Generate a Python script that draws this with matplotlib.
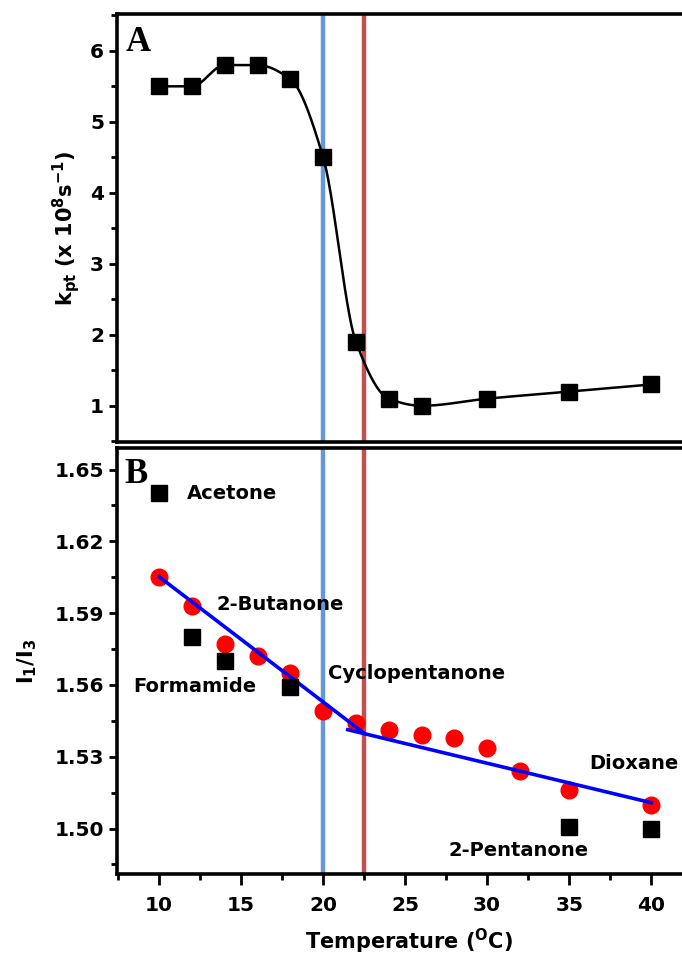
import numpy as np
import matplotlib
matplotlib.use('Agg')
import matplotlib.pyplot as plt
from matplotlib.ticker import MultipleLocator

# panel A: k_pt vs temperature
temp_a = [10, 12, 14, 16, 18, 20, 22, 24, 26, 30, 35, 40]
kpt = [5.5, 5.5, 5.8, 5.8, 5.6, 4.5, 1.9, 1.1, 1.0, 1.1, 1.2, 1.3]

# panel B: I1/I3 of pyrene vs temperature
temp_b = [10, 12, 14, 16, 18, 20, 22, 24, 26, 28, 30, 32, 35, 40]
ratio_b = [1.605, 1.593, 1.577, 1.572, 1.565, 1.549, 1.544, 1.541, 1.539, 1.538,
           1.5335, 1.524, 1.516, 1.510]

# reference solvents
solv_x = [10, 12, 14, 18, 35, 40]
solv_y = [1.640, 1.580, 1.570, 1.559, 1.5005, 1.4998]
solv_names = ['Acetone', '2-Butanone', 'Formamide', 'Cyclopentanone', '2-Pentanone', 'Dioxane']
label_x = [11.7, 13.5, 8.45, 20.3, 27.66, 36.2]
label_y = [1.640, 1.5937, 1.5594, 1.5647, 1.491, 1.527]

# two linear fits
fit1_x = [10, 22.5]
fit1_y = [1.6052, 1.5398]
fit2_x = [21.5, 40]
fit2_y = [1.5413, 1.5108]

t_low, t_high = 20, 22.5


def pchip(x, y, xs):
    # monotone cubic used only to draw the smooth guide line
    x = np.asarray(x, float)
    y = np.asarray(y, float)
    h = np.diff(x)
    d = np.diff(y) / h
    m = np.zeros_like(y)
    for i in range(1, len(x) - 1):
        if d[i - 1] * d[i] > 0:
            w1 = 2 * h[i] + h[i - 1]
            w2 = h[i] + 2 * h[i - 1]
            m[i] = (w1 + w2) / (w1 / d[i - 1] + w2 / d[i])
    m[0] = d[0]
    m[-1] = d[-1]
    idx = np.clip(np.searchsorted(x, xs) - 1, 0, len(x) - 2)
    t = (xs - x[idx]) / h[idx]
    h00 = 2 * t**3 - 3 * t**2 + 1
    h10 = t**3 - 2 * t**2 + t
    h01 = -2 * t**3 + 3 * t**2
    h11 = t**3 - t**2
    return h00 * y[idx] + h10 * h[idx] * m[idx] + h01 * y[idx + 1] + h11 * h[idx] * m[idx + 1]


plt.rcParams['font.family'] = ['DejaVu Sans']
plt.rcParams['font.weight'] = 'bold'
plt.rcParams['mathtext.fontset'] = 'custom'
plt.rcParams['mathtext.rm'] = 'DejaVu Sans:bold'
plt.rcParams['mathtext.bf'] = 'DejaVu Sans:bold'
plt.rcParams['mathtext.it'] = 'DejaVu Sans:bold'

fig = plt.figure(figsize=(6.82, 9.55), dpi=100)
left, width = 0.172, 0.855
ax1 = fig.add_axes([left, 0.5372, width, 0.4482])
ax2 = fig.add_axes([left, 0.0848, width, 0.4461])

blue_v = '#6496d8'
red_v = '#c0504d'
tick_fs = 14.5

for ax in (ax1, ax2):
    ax.set_xlim(7.45, 43)
    for s in ax.spines.values():
        s.set_linewidth(2.6)
    ax.axvline(t_low, color=blue_v, lw=3.2, zorder=1)
    ax.axvline(t_high, color=red_v, lw=3.2, zorder=1)
    ax.tick_params(which='major', direction='out', length=6, width=2, labelsize=tick_fs)
    ax.tick_params(which='minor', direction='out', length=4, width=2)
    ax.xaxis.set_major_locator(MultipleLocator(5))
    ax.xaxis.set_minor_locator(MultipleLocator(2.5))

# panel A
xs = np.linspace(10, 40, 600)
ax1.plot(xs, pchip(temp_a, kpt, xs), color='black', lw=1.8, zorder=2)
ax1.plot(temp_a, kpt, 's', color='black', ms=11, zorder=3)
ax1.set_ylim(0.49, 6.52)
ax1.yaxis.set_major_locator(MultipleLocator(1))
ax1.yaxis.set_minor_locator(MultipleLocator(0.5))
ax1.tick_params(axis='x', which='both', bottom=False, labelbottom=False)
ax1.set_ylabel(r'k$_{\mathbf{pt}}$ (x 10$^{\mathbf{8}}$s$^{\mathbf{-1}}$)', fontsize=15,
               fontweight='bold', labelpad=6)
ax1.text(0.015, 0.972, 'A', transform=ax1.transAxes, fontsize=25, fontweight='bold',
         family='Liberation Serif', va='top', ha='left')

# panel B
ax2.plot(temp_b, ratio_b, 'o', color='red', ms=12, zorder=2)
ax2.plot(fit1_x, fit1_y, color='blue', lw=2.6, zorder=3)
ax2.plot(fit2_x, fit2_y, color='blue', lw=2.6, zorder=3)
ax2.plot(solv_x, solv_y, 's', color='black', ms=11, zorder=4)
for name, lx, ly in zip(solv_names, label_x, label_y):
    ax2.text(lx, ly, name, fontsize=14, fontweight='bold', va='center', ha='left', zorder=5)
ax2.set_ylim(1.481, 1.659)
ax2.yaxis.set_major_locator(MultipleLocator(0.03))
ax2.yaxis.set_minor_locator(MultipleLocator(0.015))
ax2.yaxis.set_major_formatter(matplotlib.ticker.FormatStrFormatter('%.2f'))
ax2.tick_params(axis='x', which='major', length=8, pad=8)
ax2.set_ylabel(r'I$_{\mathbf{1}}$/I$_{\mathbf{3}}$', fontsize=15, fontweight='bold', labelpad=11)
ax2.set_xlabel(r'Temperature ($^{\mathbf{O}}$C)', fontsize=15, fontweight='bold', labelpad=8)
ax2.text(0.012, 0.977, 'B', transform=ax2.transAxes, fontsize=25, fontweight='bold',
         family='Liberation Serif', va='top', ha='left')

fig.savefig('out.png', dpi=100)
